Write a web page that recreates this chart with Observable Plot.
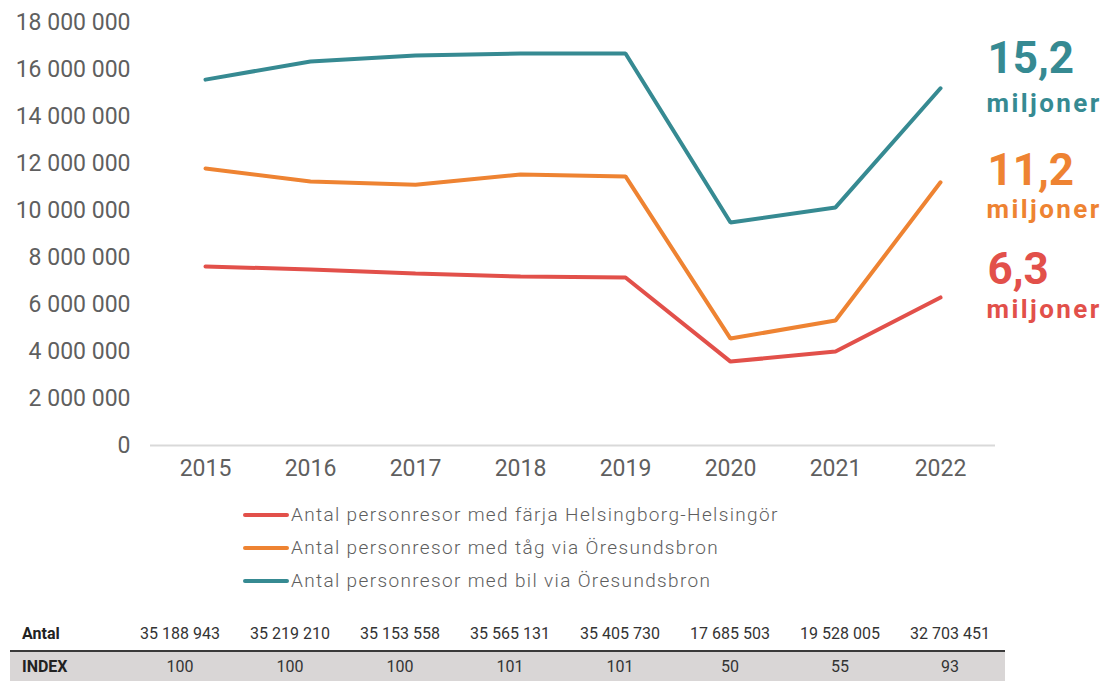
<!DOCTYPE html>
<html>
<head>
<meta charset="utf-8">
<script src="https://cdn.jsdelivr.net/npm/d3@7"></script>
<script src="https://cdn.jsdelivr.net/npm/@observablehq/plot@0.6"></script>
<style>
  html, body { margin: 0; padding: 0; background: #fff; }
  body { font-family: Roboto, "Noto Sans", sans-serif; width: 1106px; height: 682px; overflow: hidden; }
  #chart svg { display: block; }
  .legend { margin-top: 8px; margin-left: 243px; }
  .legend .row { display: flex; align-items: center; height: 33px; }
  .legend .sw { width: 46px; height: 4px; border-radius: 2px; margin-right: 2px; }
  .legend .lab { font-size: 19px; color: #5e5e5e; letter-spacing: 1.35px; font-weight: 300; }
  table.tbl { margin-top: 19px; margin-left: 10px; border-collapse: collapse; font-size: 16px; color: #333; }
  table.tbl td { width: 110px; text-align: center; padding: 0; }
  table.tbl td.head { width: 103px; text-align: left; padding-left: 12px; font-weight: bold; color: #222; }
  table.tbl tr.r1 td { height: 34px; border-bottom: 2px solid #3a3a3a; }
  table.tbl tr.r2 td { height: 29px; background: #d9d6d6; }
</style>
</head>
<body>
<div id="chart"></div>
<script>
// ---- data ----
const years = [2015, 2016, 2017, 2018, 2019, 2020, 2021, 2022];
const farja = [7620000, 7490000, 7320000, 7190000, 7150000, 3570000, 4000000, 6300000];
const tag   = [11790000, 11230000, 11100000, 11530000, 11450000, 4550000, 5320000, 11200000];
const bil   = [15570000, 16340000, 16600000, 16680000, 16680000, 9490000, 10130000, 15200000];
const seriesNames = [
  "Antal personresor med färja Helsingborg-Helsingör",
  "Antal personresor med tåg via Öresundsbron",
  "Antal personresor med bil via Öresundsbron"
];
const seriesColors = ["#e2504a", "#ee8332", "#368a92"];
const endValues = ["6,3", "11,2", "15,2"];
const endUnit = "miljoner";
const yTicks = [0, 2000000, 4000000, 6000000, 8000000, 10000000, 12000000, 14000000, 16000000, 18000000];
const tableYears = years;
const antal = ["35 188 943", "35 219 210", "35 153 558", "35 565 131", "35 405 730", "17 685 503", "19 528 005", "32 703 451"];
const indexVals = [100, 100, 100, 101, 101, 50, 55, 93];

// ---- build ----
const seriesVals = [farja, tag, bil];
const rows = [];
seriesVals.forEach((vals, si) => vals.forEach((v, i) => rows.push({year: String(years[i]), value: v, series: seriesNames[si]})));
const last = seriesVals.map((vals, si) => ({year: String(years[years.length - 1]), value: vals[vals.length - 1], series: seriesNames[si], big: endValues[si], si}));
const numDy = [-28, -11, -29.5];
const unitDy = [12.5, 27, 15.5];

const sv = d3.formatLocale({thousands: " ", grouping: [3], decimal: ",", currency: ["", ""]}).format(",");

const plot = Plot.plot({
  width: 1106,
  height: 490,
  marginLeft: 150,
  marginRight: 111,
  marginTop: 22,
  marginBottom: 45,
  style: {fontFamily: "Roboto, sans-serif", fontSize: "23px", color: "#5f5f5f", background: "transparent", overflow: "visible"},
  x: {type: "point", domain: years.map(String), padding: 0.5, label: null},
  y: {domain: [0, 18000000], label: null},
  color: {domain: seriesNames, range: seriesColors},
  marks: [
    Plot.axisY({ticks: yTicks, tickFormat: sv, tickSize: 0, tickPadding: 20, label: null, fontSize: 23, fill: "#5f5f5f"}),
    Plot.axisX({tickSize: 0, tickPadding: 14, label: null, fontSize: 23, fill: "#5f5f5f"}),
    Plot.ruleY([0], {stroke: "#d9d9d9", strokeWidth: 2}),
    Plot.line(rows, {x: "year", y: "value", z: "series", stroke: "series", strokeWidth: 4, strokeLinecap: "round", strokeLinejoin: "miter"}),
    ...last.map((d, i) => Plot.text([d], {x: "year", y: "value", text: "big", fill: seriesColors[i], fontWeight: "bold", fontSize: 44, textAnchor: "start", dx: 47, dy: numDy[i]})),
    ...last.map((d, i) => Plot.text([d], {x: "year", y: "value", text: () => endUnit, fill: seriesColors[i], fontWeight: "bold", fontSize: 26, textAnchor: "start", dx: 46, dy: unitDy[i]}))
  ]
});
plot.querySelectorAll('g[aria-label="text"] text').forEach(t => { if (t.textContent === endUnit) t.style.letterSpacing = "2.4px"; });
document.getElementById("chart").appendChild(plot);

// legend
const leg = document.createElement("div");
leg.className = "legend";
seriesNames.forEach((n, i) => {
  const r = document.createElement("div"); r.className = "row";
  const s = document.createElement("div"); s.className = "sw"; s.style.background = seriesColors[i];
  const l = document.createElement("span"); l.className = "lab"; l.textContent = n;
  r.appendChild(s); r.appendChild(l); leg.appendChild(r);
});
document.body.appendChild(leg);

// table
const tbl = document.createElement("table");
tbl.className = "tbl";
const tr1 = document.createElement("tr"); tr1.className = "r1";
const tr2 = document.createElement("tr"); tr2.className = "r2";
const h1 = document.createElement("td"); h1.className = "head"; h1.textContent = "Antal"; tr1.appendChild(h1);
const h2 = document.createElement("td"); h2.className = "head"; h2.textContent = "INDEX"; tr2.appendChild(h2);
tableYears.forEach((y, i) => {
  const a = document.createElement("td"); a.textContent = antal[i]; tr1.appendChild(a);
  const b = document.createElement("td"); b.textContent = indexVals[i]; tr2.appendChild(b);
});
tbl.appendChild(tr1); tbl.appendChild(tr2);
document.body.appendChild(tbl);
</script>
</body>
</html>
